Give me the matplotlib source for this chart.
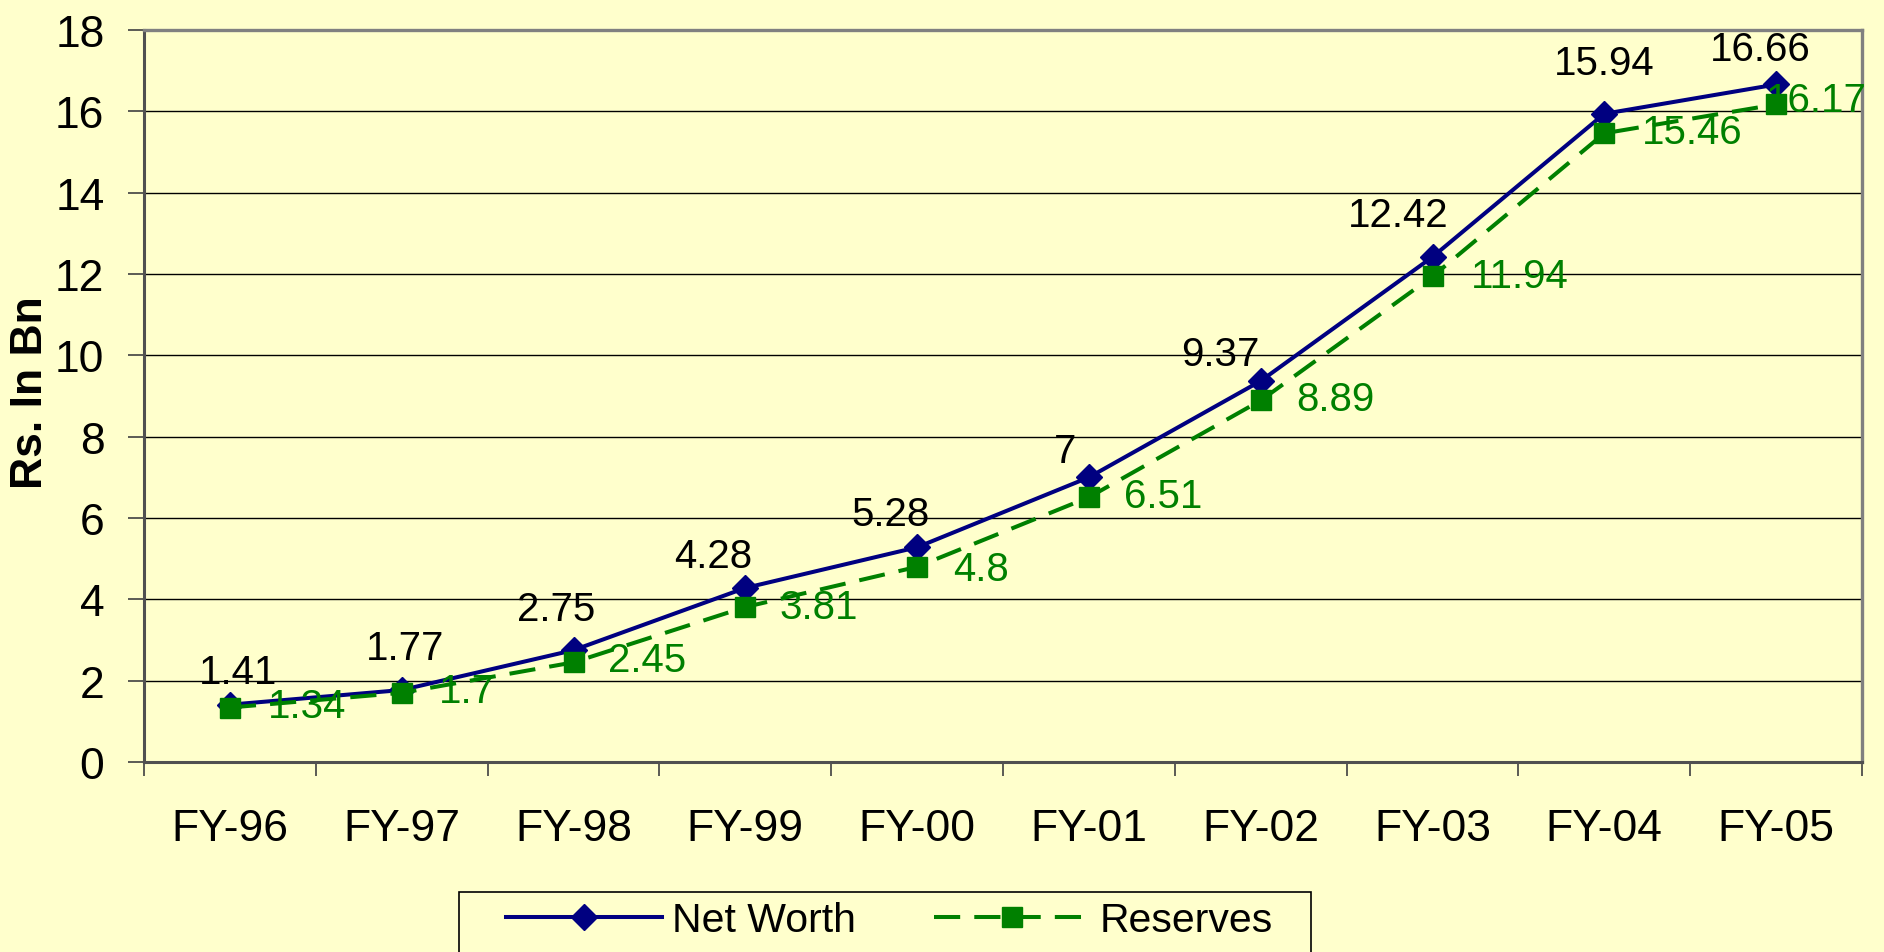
import matplotlib
matplotlib.use("Agg")
import matplotlib.pyplot as plt
from matplotlib.lines import Line2D
from matplotlib.patches import Rectangle

# ---- data ----
categories = ["FY-96", "FY-97", "FY-98", "FY-99", "FY-00", "FY-01", "FY-02", "FY-03", "FY-04", "FY-05"]
net_worth = [1.41, 1.77, 2.75, 4.28, 5.28, 7, 9.37, 12.42, 15.94, 16.66]
reserves = [1.34, 1.7, 2.45, 3.81, 4.8, 6.51, 8.89, 11.94, 15.46, 16.17]
nw_labels = ["1.41", "1.77", "2.75", "4.28", "5.28", "7", "9.37", "12.42", "15.94", "16.66"]
rs_labels = ["1.34", "1.7", "2.45", "3.81", "4.8", "6.51", "8.89", "11.94", "15.46", "16.17"]
yticks = [0, 2, 4, 6, 8, 10, 12, 14, 16, 18]

# label offsets (pixels) as placed in the original
nw_dx = [8, 3, -17, -32, -27, -24, -40, -34, 0, -16]
nw_gap = [22, 31, 30, 21, 22, 15, 16, 31, 40, 24]
rs_dx = [38, 37, 35, 34, 36, 35, 36, 38, 38, -10]
rs_dy = [-2, -2, -2, 0, 2, -1, -1, 0, -1, -4]

BG = "#FFFFCC"
BLUE = "#000080"
GREEN = "#008000"
W, H = 1884, 953
PX = 0.72  # points per pixel at 100 dpi

plt.rcParams['font.family'] = ['Liberation Sans', 'DejaVu Sans']

fig = plt.figure(figsize=(W / 100, H / 100), dpi=100, facecolor=BG)
ax = fig.add_axes([144 / W, 1 - 763 / H, (1862 - 144) / W, (763 - 31) / H])
ax.set_facecolor(BG)

x = list(range(len(categories)))
ax.plot(x, net_worth, color=BLUE, lw=2.9, marker="D", ms=13,
        mfc=BLUE, mec=BLUE, zorder=3, label="Net Worth")
ax.plot(x, reserves, color=GREEN, lw=2.9, ls=(0, (6.5, 3.5)), marker="s", ms=15,
        mfc=GREEN, mec=GREEN, zorder=4, label="Reserves")

for i in x:
    ax.annotate(nw_labels[i], (i, net_worth[i]), xytext=(nw_dx[i] * PX, nw_gap[i] * PX),
                textcoords="offset points", ha="center", va="baseline",
                fontsize=29, color="black", zorder=6, annotation_clip=False)
    ax.annotate(rs_labels[i], (i, reserves[i]), xytext=(rs_dx[i] * PX, -rs_dy[i] * PX),
                textcoords="offset points", ha="left", va="center",
                fontsize=29, color=GREEN, zorder=6, annotation_clip=False)

ax.set_xlim(-0.5, len(categories) - 0.5)
ax.set_ylim(0, 18)
ax.set_yticks(yticks)
ax.set_yticklabels([str(v) for v in yticks], fontsize=32)
ax.set_xticks(x)
ax.set_xticklabels(categories, fontsize=32)
ax.set_xticks([i - 0.5 for i in range(len(categories) + 1)], minor=True)
ax.tick_params(axis="x", which="major", length=0, pad=33)
ax.tick_params(axis="x", which="minor", length=10, width=1.2, direction="out", color="#404040")
ax.tick_params(axis="y", which="major", length=11.5, width=1.2, direction="out", pad=17, color="#404040")
ax.grid(axis="y", color="black", lw=1.0, zorder=1)
ax.set_axisbelow(True)

for side in ["top", "right"]:
    ax.spines[side].set_color("#808080")
    ax.spines[side].set_linewidth(2.4)
for side in ["left", "bottom"]:
    ax.spines[side].set_color("#505050")
    ax.spines[side].set_linewidth(2.2)

fig.text(31 / W, 1 - 392.5 / H, "Rs. In Bn", rotation=90, ha="center", va="center",
         fontsize=32, fontweight="bold")

handles = [
    Line2D([], [], color=BLUE, lw=2.9, marker="D", ms=13, mfc=BLUE, mec=BLUE),
    Line2D([], [], color=GREEN, lw=2.9, ls=(0, (6.5, 3.5)), marker="s", ms=15, mfc=GREEN, mec=GREEN),
]
fig.legend(handles, ["Net Worth", "Reserves"], loc="center left",
           bbox_to_anchor=(506 / W, 1 - 921 / H), ncol=2, frameon=False,
           fontsize=29.5, handlelength=3.8, handletextpad=0.25, columnspacing=1.9,
           borderpad=0, borderaxespad=0)
fig.add_artist(Rectangle((459 / W, 1 - 965 / H), (1311 - 459) / W, (965 - 893) / H,
                         transform=fig.transFigure, facecolor="none", edgecolor="black",
                         lw=1.2, clip_on=False))

fig.savefig("out.png", dpi=100, facecolor=BG)
